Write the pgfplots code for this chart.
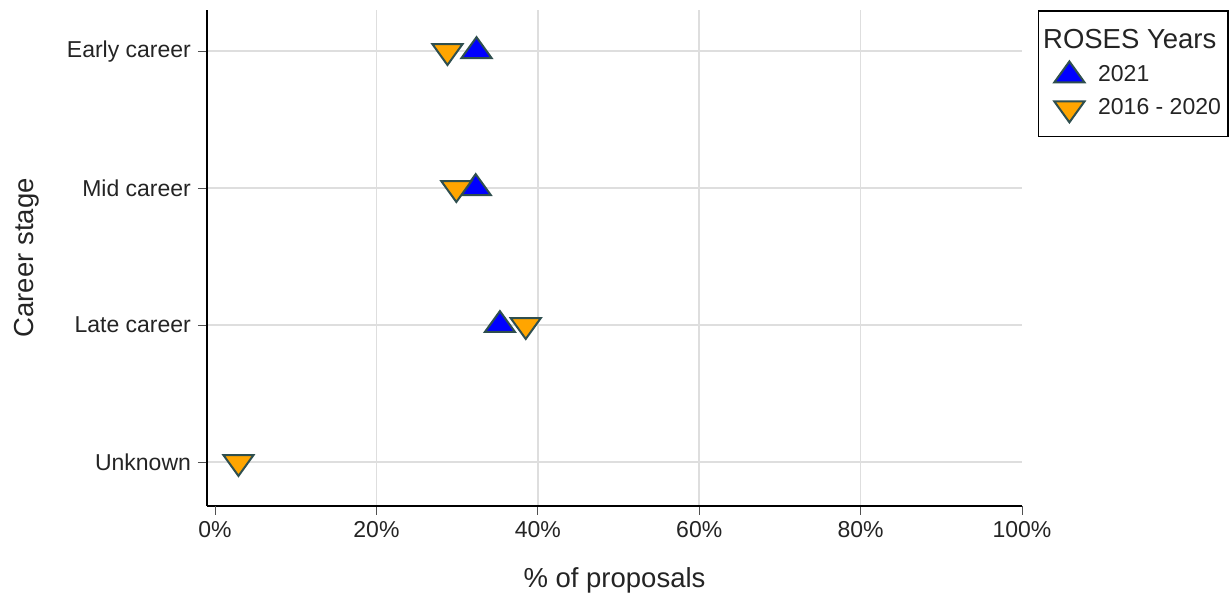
\documentclass[border=0pt]{standalone}
\usepackage{pgfplots}
\pgfplotsset{compat=1.18}
\usepackage{fontspec}
\setmainfont{Liberation Sans}
\definecolor{txt}{RGB}{36,36,36}
\definecolor{mblue}{RGB}{0,0,255}
\definecolor{morange}{RGB}{255,165,0}
\definecolor{medge}{RGB}{47,79,79}
\definecolor{gridc}{RGB}{222,222,222}
\pgfplotsset{
  legmark/.style={legend image code/.code={%
    \path (-13.5pt,0pt) (12pt,0pt);
    \draw[mark repeat=2,mark phase=2,##1] plot coordinates {(-13.5pt,0pt)(0pt,0pt)(12pt,0pt)};}}
}
\begin{document}
\begin{tikzpicture}
\path[use as bounding box] (-103.5pt,-44.65pt) rectangle (511.5pt,252.85pt);
\begin{axis}[
  at={(0,0)}, anchor=south west,
  scale only axis, width=407.5pt, height=247.85pt,
  xmin=-1, xmax=100, ymin=-0.319, ymax=3.3,
  axis x line*=bottom, axis y line*=left,
  axis line style={black, line width=1pt, -},
  tick align=outside, major tick length=4.5pt,
  tick style={color=txt!80, line width=0.5pt},
  xtick={20,40,60,80},
  xticklabels={20\%,40\%,60\%,80\%},
  extra x ticks={0,100}, extra x tick labels={0\%,100\%},
  extra x tick style={grid=none},
  ytick={0,1,2,3},
  yticklabels={Unknown,Late career,Mid career,Early career},
  xmajorgrids, ymajorgrids,
  grid style={gridc, line width=0.75pt},
  ticklabel style={font=\fontsize{11.5}{13}\selectfont, text=txt},
  xlabel={\% of proposals}, ylabel={Career stage},
  label style={font=\fontsize{13.75}{16}\selectfont, text=txt},
  xlabel style={at={(axis description cs:0.5,-0.164)}, anchor=base},
  ylabel style={at={(axis description cs:-0.213,0.5)}, anchor=base},
  legend style={at={(rel axis cs:1.0195,0.999)}, anchor=north west,
    draw=black, line width=0.75pt, font=\fontsize{11.5}{13}\selectfont,
    text=txt, inner xsep=1.5pt, inner ysep=7pt, row sep=3pt},
  legend cell align=left,
  clip=false,
]
\addlegendimage{empty legend}
\addlegendentry{\hspace{-27.5pt}\fontsize{13.75}{16}\selectfont ROSES Years}
\addplot[only marks, legmark, mark=triangle*, mark size=8.7pt,
  mark options={fill=mblue, draw=medge, line width=1pt, yscale=0.8}]
  coordinates {(32.4,3) (32.3,2) (35.3,1)};
\addlegendentry{2021}
\addplot[only marks, legmark, mark=triangle*, mark size=8.7pt,
  mark options={fill=morange, draw=medge, line width=1pt, rotate=180, yscale=0.8}]
  coordinates {(28.8,3) (29.9,2) (38.5,1) (2.9,0)};
\addlegendentry{2016 - 2020}
\end{axis}
\end{tikzpicture}
\end{document}
